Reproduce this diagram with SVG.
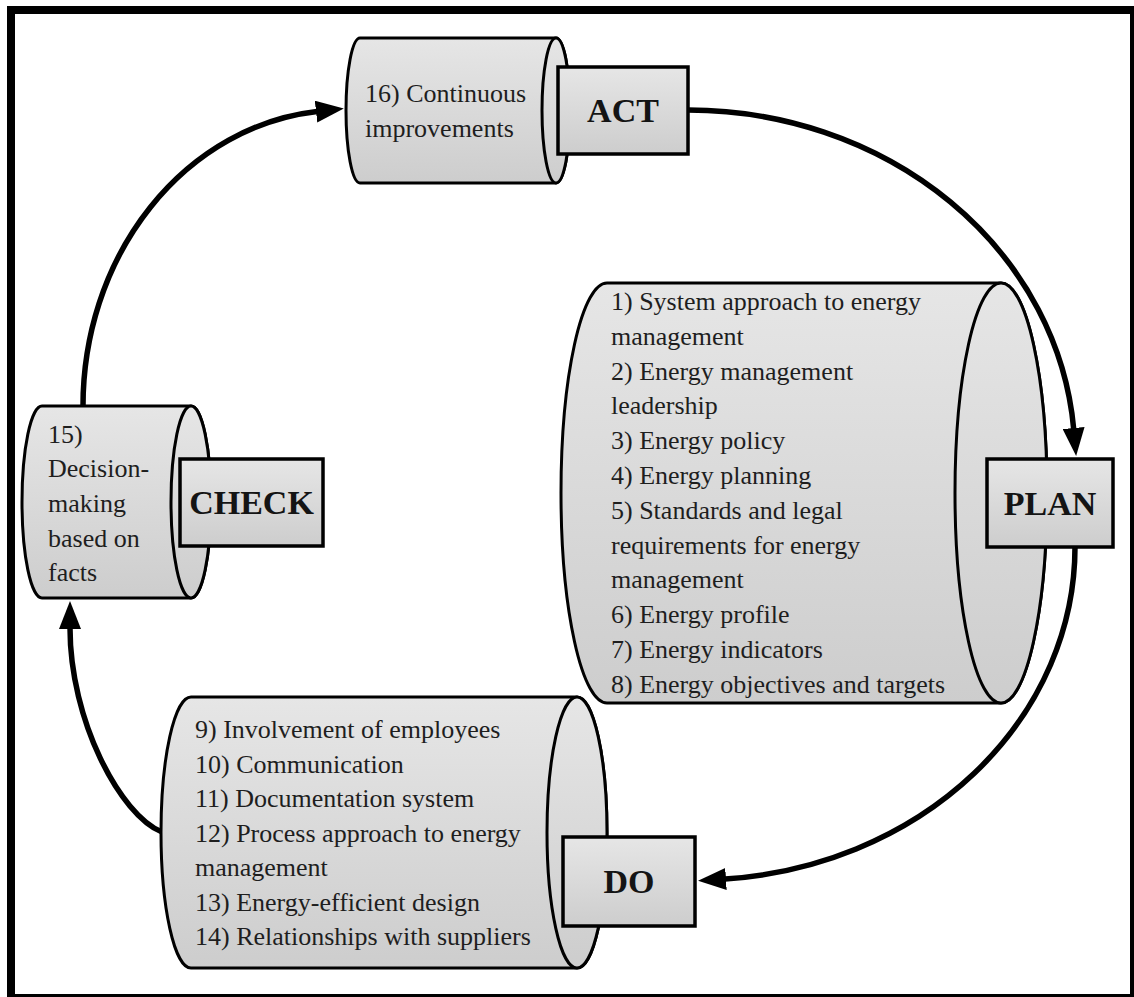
<svg xmlns="http://www.w3.org/2000/svg" width="1134" height="997" viewBox="0 0 1134 997">
  <defs>
    <linearGradient id="shade" x1="0" y1="0" x2="0" y2="1">
      <stop offset="0" stop-color="#e6e6e6"/>
      <stop offset="1" stop-color="#cdcdcd"/>
    </linearGradient>
    <marker id="head" viewBox="0 0 28 22" markerWidth="28" markerHeight="22" markerUnits="userSpaceOnUse" refX="1" refY="11" orient="auto">
      <path d="M0,0 L28,11 L0,22 z" fill="#000"/>
    </marker>
    <style>
      .body { fill: url(#shade); stroke: #000; stroke-width: 3; stroke-linejoin: round; }
      .box { fill: url(#shade); stroke: #000; stroke-width: 3.5; }
      .item { font-family: "Liberation Serif", "Times New Roman", serif; font-size: 26px; fill: #1e1e1e; }
      .phase { font-family: "Liberation Serif", "Times New Roman", serif; font-size: 34px; font-weight: bold; fill: #141414; text-anchor: middle; }
      .link { fill: none; stroke: #000; stroke-width: 5.5; marker-end: url(#head); }
    </style>
  </defs>

  <rect x="0" y="0" width="1134" height="997" fill="#fff"/>
  <rect x="11" y="10" width="1123" height="988" fill="none" stroke="#000" stroke-width="8"/>

  <!-- connectors between the four phases -->
  <g id="connectors">
    <path class="link" d="M83,406 A260,296 0 0,1 317,111.5"/>
    <path class="link" d="M688,110 A387,347 0 0,1 1073.7,429"/>
    <path class="link" d="M1075,547 A378,333 0 0,1 725,879"/>
    <path class="link" d="M162,832 C120,815 70,720 70,628"/>
  </g>

  <!-- ACT -->
  <g id="act">
    <path class="body" d="M360,38 L556,38 A14,72.5 0 0,1 556,183 L360,183 A14,72.5 0 0,1 360,38 z"/>
    <ellipse class="body" cx="556" cy="110.5" rx="14" ry="72.5"/>
    <text class="item" x="365" y="102">16) Continuous</text>
    <text class="item" x="365" y="137">improvements</text>
    <rect class="box" x="558" y="67" width="130" height="87"/>
    <text class="phase" x="623" y="122">ACT</text>
  </g>

  <!-- PLAN -->
  <g id="plan">
    <path class="body" d="M607,283 L1001,283 A46,210 0 0,1 1001,703 L607,703 A46,210 0 0,1 607,283 z"/>
    <ellipse class="body" cx="1001" cy="493" rx="46" ry="210"/>
    <text class="item" x="611" y="310">1) System approach to energy</text>
    <text class="item" x="611" y="344.8">management</text>
    <text class="item" x="611" y="379.6">2) Energy management</text>
    <text class="item" x="611" y="414.4">leadership</text>
    <text class="item" x="611" y="449.2">3) Energy policy</text>
    <text class="item" x="611" y="484">4) Energy planning</text>
    <text class="item" x="611" y="518.8">5) Standards and legal</text>
    <text class="item" x="611" y="553.6">requirements for energy</text>
    <text class="item" x="611" y="588.4">management</text>
    <text class="item" x="611" y="623.2">6) Energy profile</text>
    <text class="item" x="611" y="658">7) Energy indicators</text>
    <text class="item" x="611" y="692.8">8) Energy objectives and targets</text>
    <rect class="box" x="987" y="459" width="126" height="88"/>
    <text class="phase" x="1050" y="515">PLAN</text>
  </g>

  <!-- CHECK -->
  <g id="check">
    <path class="body" d="M42,406 L191,406 A20,96 0 0,1 191,598 L42,598 A20,96 0 0,1 42,406 z"/>
    <ellipse class="body" cx="191" cy="502" rx="20" ry="96"/>
    <text class="item" x="48" y="442.5">15)</text>
    <text class="item" x="48" y="477.2">Decision-</text>
    <text class="item" x="48" y="511.9">making</text>
    <text class="item" x="48" y="546.6">based on</text>
    <text class="item" x="48" y="581.3">facts</text>
    <rect class="box" x="180" y="459" width="143" height="87"/>
    <text class="phase" x="251.5" y="514">CHECK</text>
  </g>

  <!-- DO -->
  <g id="do">
    <path class="body" d="M191,697 L577,697 A30,135.5 0 0,1 577,968 L191,968 A30,135.5 0 0,1 191,697 z"/>
    <ellipse class="body" cx="577" cy="832.5" rx="30" ry="135.5"/>
    <text class="item" x="195" y="738">9) Involvement of employees</text>
    <text class="item" x="195" y="772.5">10) Communication</text>
    <text class="item" x="195" y="807">11) Documentation system</text>
    <text class="item" x="195" y="841.5">12) Process approach to energy</text>
    <text class="item" x="195" y="876">management</text>
    <text class="item" x="195" y="910.5">13) Energy-efficient design</text>
    <text class="item" x="195" y="945">14) Relationships with suppliers</text>
    <rect class="box" x="563" y="837" width="132" height="89"/>
    <text class="phase" x="629" y="893">DO</text>
  </g>
</svg>
